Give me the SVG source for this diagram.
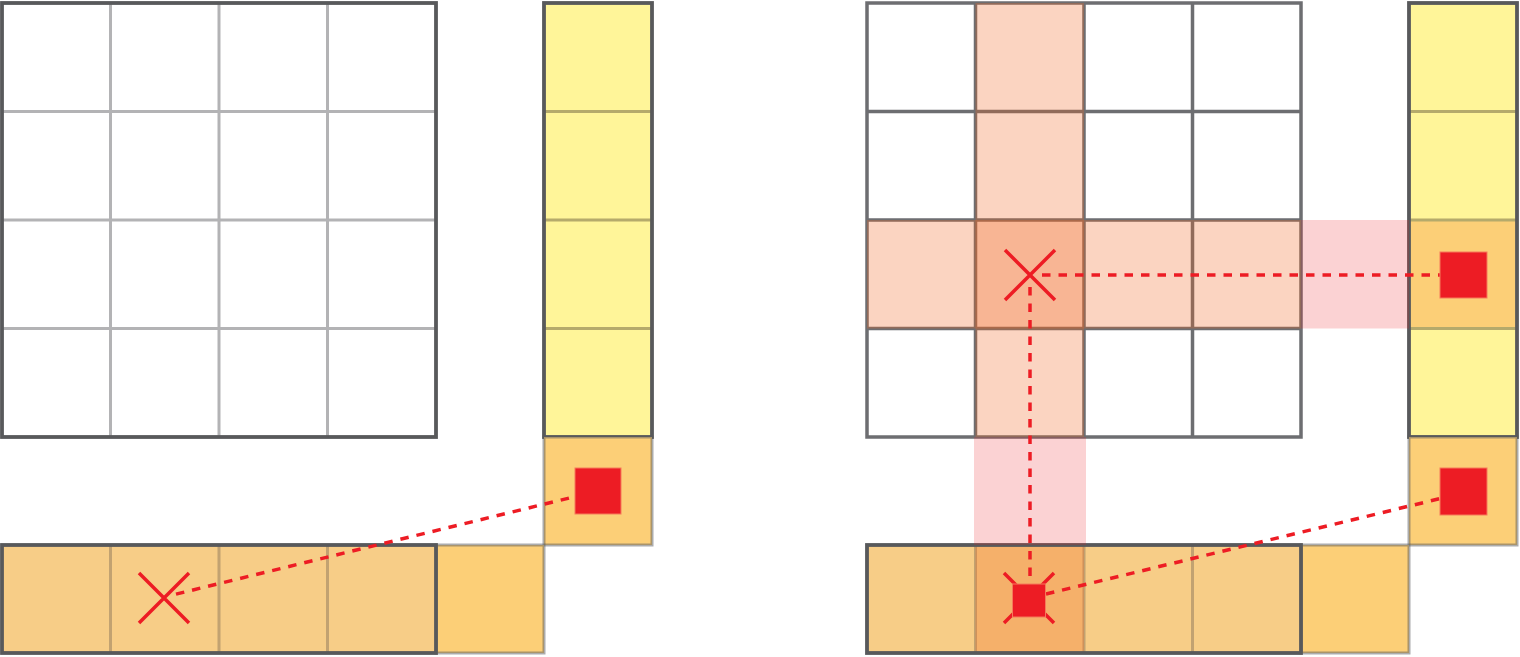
<svg xmlns="http://www.w3.org/2000/svg" width="1520" height="657" viewBox="0 0 1520 657">
<style>
.outer{fill:none;stroke:#58595b;stroke-width:3.8}
.inner{stroke:#b3b3b5;stroke-width:3}
.rgrid{stroke:#6d6e71;stroke-width:3.5;fill:none}
.yel{fill:#fff599}
.ydiv{stroke:#b5aa6b;stroke-width:3}
.org{fill:#fccf77;stroke:#58595b;stroke-opacity:0.5;stroke-width:3}
.brow{fill:#f7cd87}
.bdiv{stroke:#c2a271;stroke-width:3}
.hl{fill:#f26522;fill-opacity:0.28}
.pink{fill:#ed1c24;fill-opacity:0.2}
.sq{fill:#ed1c24;stroke:#f57a5a;stroke-width:1}
.x{stroke:#ed1c24;stroke-width:3.5}
.dash{stroke:#ed1c24;stroke-width:3.5;stroke-dasharray:8.5 8;fill:none}
</style>
<rect width="1520" height="657" fill="#ffffff"/>

<!-- LEFT FIGURE -->
<g id="left-grid">
<rect x="2" y="3" width="434" height="434" fill="#ffffff"/>
<path class="inner" d="M110.5 3V437M219 3V437M327.5 3V437M2 111.5H436M2 220H436M2 328.5H436"/>
<rect class="outer" x="2" y="3" width="434" height="434"/>
</g>
<g id="left-column">
<rect class="yel" x="544" y="3" width="108" height="434"/>
<path class="ydiv" d="M544 111.5H652M544 220H652M544 328.5H652"/>
<rect class="outer" x="544" y="3" width="108" height="434"/>
</g>
<g id="left-corner">
<rect class="org" x="544" y="437" width="108" height="108"/>
</g>
<g id="left-extra">
<rect class="org" x="436" y="545" width="108" height="108"/>
</g>
<g id="left-row">
<rect class="brow" x="2" y="545" width="434" height="108"/>
<path class="bdiv" d="M110.5 545V653M219 545V653M327.5 545V653"/>
<rect class="outer" x="2" y="545" width="434" height="108"/>
</g>
<g id="left-connectors">
<line class="dash" x1="176" y1="594.1" x2="575" y2="496.6"/>
</g>
<g id="left-marks">
<path class="x" d="M139 573L189 623M189 573L139 623"/>
<rect class="sq" x="575" y="468" width="46" height="46"/>
</g>

<!-- RIGHT FIGURE -->
<g id="right-grid">
<rect x="867" y="3" width="434" height="434" fill="#ffffff"/>
<path class="rgrid" d="M975.5 3V437M1084 3V437M1192.5 3V437M867 111.5H1301M867 220H1301M867 328.5H1301"/>
<rect class="rgrid" x="867" y="3" width="434" height="434"/>
<rect class="hl" x="975.5" y="3" width="108.5" height="434"/>
<rect class="hl" x="867" y="220" width="434" height="108.5"/>
</g>
<g id="right-column">
<rect class="yel" x="1409" y="3" width="108" height="434"/>
<rect fill="#fccf77" x="1409" y="220" width="108" height="108.5"/>
<path class="ydiv" d="M1409 111.5H1517M1409 220H1517M1409 328.5H1517"/>
<rect class="outer" x="1409" y="3" width="108" height="434"/>
</g>
<g id="right-corner">
<rect class="org" x="1409" y="437" width="108" height="108"/>
</g>
<g id="right-extra">
<rect class="org" x="1301" y="545" width="108" height="108"/>
</g>
<g id="right-row">
<rect class="brow" x="867" y="545" width="434" height="108"/>
<path class="bdiv" d="M975.5 545V653M1084 545V653M1192.5 545V653"/>
<rect class="hl" x="975.5" y="545" width="108.5" height="108" fill-opacity="0.22"/>
<rect class="outer" x="867" y="545" width="434" height="108"/>
</g>
<g id="right-bands">
<rect class="pink" x="1301" y="220" width="108" height="108.5"/>
<rect class="pink" x="974" y="437" width="112" height="108"/>
</g>
<g id="right-connectors">
<line class="dash" x1="1042" y1="275" x2="1440" y2="275"/>
<line class="dash" x1="1030" y1="287" x2="1030" y2="590"/>
<line class="dash" x1="1046" y1="594" x2="1440" y2="498.6"/>
</g>
<g id="right-marks">
<path class="x" d="M1005 250L1055 300M1055 250L1005 300"/>
<path class="x" d="M1004 573L1054 623M1054 573L1004 623"/>
<rect class="sq" x="1012.5" y="584" width="33" height="33"/>
<rect class="sq" x="1440" y="252" width="47" height="46"/>
<rect class="sq" x="1440" y="468" width="47" height="47"/>
</g>
</svg>
